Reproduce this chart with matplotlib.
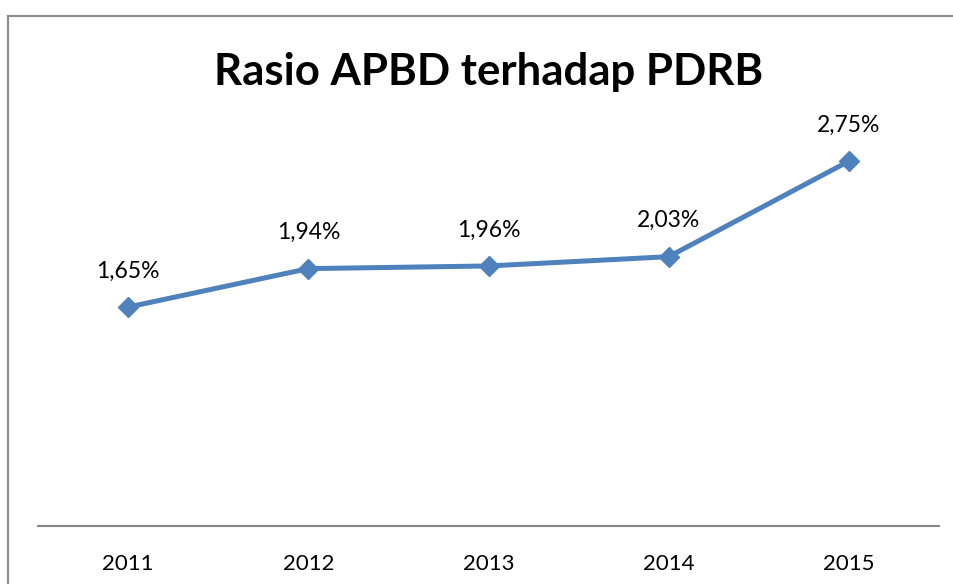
import matplotlib
matplotlib.use("Agg")
from matplotlib import pyplot as plt
from matplotlib.lines import Line2D

years = ["2011", "2012", "2013", "2014", "2015"]
ratio = [1.65, 1.94, 1.96, 2.03, 2.75]
labels = ["1,65%", "1,94%", "1,96%", "2,03%", "2,75%"]

plt.rcParams['font.family'] = ['Lato', 'DejaVu Sans']

W, H = 954, 584
fig = plt.figure(figsize=(W / 100, H / 100), dpi=100)

# chart frame (only top and left edges are visible)
fig.add_artist(Line2D([8.5 / W, 8.5 / W], [0, 1 - 16 / H], transform=fig.transFigure, color="#8c8c8c", lw=1.5))
fig.add_artist(Line2D([8 / W, 1], [1 - 16 / H, 1 - 16 / H], transform=fig.transFigure, color="#8c8c8c", lw=1.5))

ax = fig.add_axes([38 / W, 1 - 526 / H, (939 - 38) / W, (526 - 128) / H])
x = range(len(years))
ax.plot(x, ratio, color="#4f81bd", lw=3.6, marker="D", markersize=10, clip_on=False)

for xi, v, t in zip(x, ratio, labels):
    ax.annotate(t, (xi, v), xytext=(0, 26), textcoords="offset points",
                ha="center", va="center", fontsize=16.5, color="black")

ax.set_xlim(-0.5, 4.5)
ax.set_ylim(0, 3)
ax.set_xticks(list(x))
ax.set_xticklabels(years, fontsize=16)
ax.tick_params(axis="x", length=0, pad=20)
ax.set_yticks([])
for side in ["top", "left", "right"]:
    ax.spines[side].set_visible(False)
ax.spines["bottom"].set_color("#868686")
ax.spines["bottom"].set_linewidth(1.5)

fig.text(489 / W, 1 - 72 / H, "Rasio APBD terhadap PDRB", ha="center", va="center",
         fontsize=31.5, fontweight="bold")

fig.savefig("out.png", dpi=100)
